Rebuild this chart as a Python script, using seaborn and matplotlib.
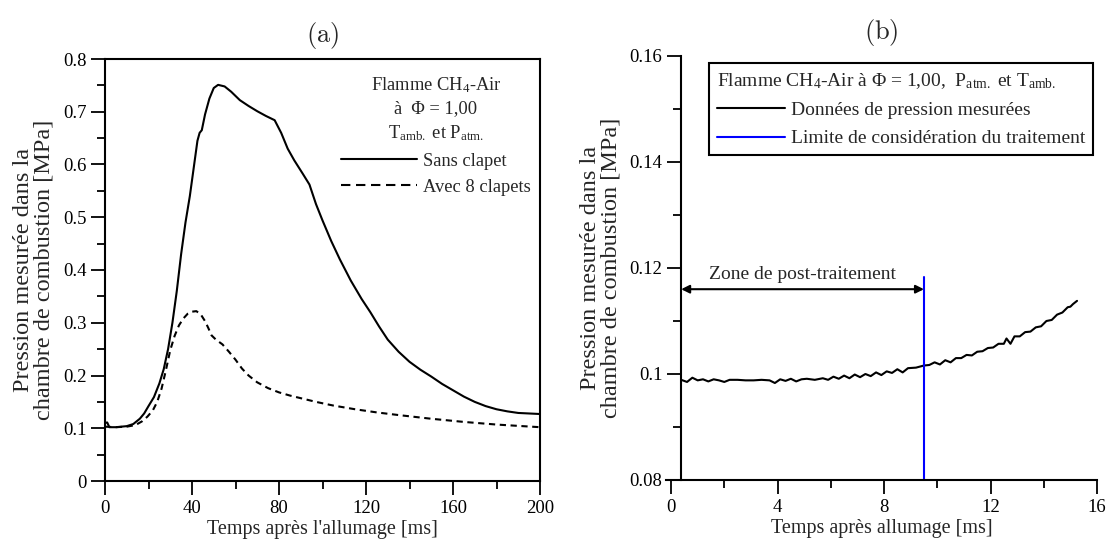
import numpy as np
import pandas as pd
import matplotlib
matplotlib.use("Agg")
import matplotlib.pyplot as plt
from matplotlib.ticker import MultipleLocator, FuncFormatter
from matplotlib.lines import Line2D
import seaborn as sns

# ---------------- data (a) ----------------
t_sans = [0, 1, 2, 5, 10, 13, 16, 18, 20, 22.5, 25, 27, 29, 31, 33, 35, 37, 39, 41, 42.5,
          43.5, 44.5, 46, 48, 50, 52, 55, 58, 62, 66, 70, 74, 78, 81, 84, 87, 91, 94, 97,
          100, 104, 108, 113, 118, 122, 126, 130, 135, 140, 145, 150, 155, 160, 165, 170,
          175, 180, 185, 190, 195, 200]
p_sans = [0.110, 0.111, 0.102, 0.102, 0.104, 0.108, 0.118, 0.128, 0.142, 0.159, 0.185, 0.212,
          0.250, 0.300, 0.360, 0.430, 0.490, 0.540, 0.600, 0.645, 0.660, 0.665, 0.695, 0.725,
          0.745, 0.751, 0.748, 0.738, 0.722, 0.711, 0.701, 0.692, 0.684, 0.660, 0.630, 0.608,
          0.582, 0.562, 0.525, 0.494, 0.455, 0.420, 0.380, 0.345, 0.320, 0.293, 0.268, 0.245,
          0.226, 0.211, 0.198, 0.184, 0.172, 0.160, 0.150, 0.142, 0.136, 0.132, 0.129, 0.128,
          0.127]
t_avec = [0, 5, 10, 14, 17, 19.5, 22, 24, 26, 28, 30, 32, 34, 36, 38, 40, 42, 44, 46, 47.5,
          49, 51, 54, 57, 60, 63, 66, 70, 75, 80, 85, 90, 97, 105, 115, 125, 135, 150, 165,
          180, 200]
p_avec = [0.103, 0.102, 0.103, 0.106, 0.113, 0.122, 0.134, 0.150, 0.175, 0.210, 0.248, 0.275,
          0.295, 0.308, 0.317, 0.321, 0.322, 0.316, 0.303, 0.290, 0.276, 0.268, 0.259, 0.245,
          0.230, 0.213, 0.200, 0.187, 0.176, 0.168, 0.162, 0.157, 0.150, 0.143, 0.136, 0.130,
          0.125, 0.118, 0.112, 0.107, 0.102]

# ---------------- data (b) ----------------
t_mes = [0.38, 0.6, 0.8, 1.0, 1.2, 1.4, 1.6, 1.8, 2.0, 2.2, 2.5, 2.8, 3.1, 3.4, 3.7, 3.9, 4.1,
         4.3, 4.5, 4.7, 4.9, 5.1, 5.4, 5.7, 5.9, 6.1, 6.3, 6.5, 6.7, 6.9, 7.1, 7.3, 7.5, 7.7,
         7.9, 8.1, 8.3, 8.5, 8.7, 8.9, 9.2, 9.5, 9.7, 9.9, 10.1, 10.3, 10.5, 10.7, 10.9, 11.1,
         11.3, 11.5, 11.7, 11.9, 12.1, 12.3, 12.5, 12.6, 12.75, 12.9, 13.1, 13.3, 13.5, 13.7,
         13.9, 14.1, 14.3, 14.5, 14.7, 14.9, 15.0, 15.1, 15.25]
p_mes = [0.0989, 0.0985, 0.0993, 0.0988, 0.0990, 0.0986, 0.0990, 0.0988, 0.0985, 0.0989,
         0.0989, 0.0988, 0.0988, 0.0989, 0.0988, 0.0983, 0.0990, 0.0987, 0.0991, 0.0986,
         0.0990, 0.0991, 0.0989, 0.0992, 0.0989, 0.0995, 0.0991, 0.0997, 0.0992, 0.0999,
         0.0994, 0.1000, 0.0996, 0.1003, 0.0998, 0.1005, 0.1002, 0.1009, 0.1003, 0.1011,
         0.1012, 0.1016, 0.1017, 0.1022, 0.1018, 0.1026, 0.1022, 0.1030, 0.1030, 0.1036,
         0.1035, 0.1042, 0.1043, 0.1049, 0.1050, 0.1057, 0.1057, 0.1067, 0.1057, 0.1071,
         0.1071, 0.1079, 0.1080, 0.1088, 0.1090, 0.1100, 0.1102, 0.1112, 0.1116, 0.1126,
         0.1127, 0.1132, 0.1138]
limit_t = 9.5
limit_top = 0.1183
zone_start = 0.38
zone_y = 0.116
zone_label = "Zone de post-traitement"

sns.set_theme(style="ticks")
plt.rcParams["font.family"] = ["Liberation Serif", "DejaVu Serif"]
plt.rcParams["mathtext.fontset"] = "custom"
plt.rcParams["mathtext.rm"] = "Liberation Serif"
plt.rcParams["mathtext.it"] = "Liberation Serif:italic"
plt.rcParams["mathtext.bf"] = "Liberation Serif:bold"
plt.rcParams["axes.edgecolor"] = "black"
plt.rcParams["axes.linewidth"] = 1.5

fig = plt.figure(figsize=(11.1, 5.49), dpi=100)
axA = fig.add_axes([105 / 1110, 1 - 481 / 549, 435 / 1110, 422 / 549])
axB = fig.add_axes([666 / 1110, 1 - 480 / 549, 431 / 1110, 424 / 549])

fmt = FuncFormatter(lambda v, p: f"{v:g}")
ylab = "Pression mesurée dans la\nchambre de combustion [MPa]"

def style_ticks(ax):
    ax.tick_params(which="major", direction="out", length=10, width=1.3, labelsize=13.5,
                   color="black", labelcolor="black")
    ax.tick_params(which="minor", direction="out", length=5.5, width=1.3, color="black")

# ---------------- (a) ----------------
da = pd.DataFrame({"t": t_sans, "p": p_sans})
db = pd.DataFrame({"t": t_avec, "p": p_avec})
sns.lineplot(data=da, x="t", y="p", ax=axA, color="black", lw=1.5, sort=False)
sns.lineplot(data=db, x="t", y="p", ax=axA, color="black", lw=1.5, sort=False,
             linestyle=(0, (3, 2.2)))
axA.set_xlim(0, 200)
axA.set_ylim(0, 0.8)
axA.xaxis.set_major_locator(MultipleLocator(40))
axA.xaxis.set_minor_locator(MultipleLocator(20))
axA.yaxis.set_major_locator(MultipleLocator(0.1))
axA.yaxis.set_minor_locator(MultipleLocator(0.05))
axA.yaxis.set_major_formatter(fmt)
axA.xaxis.set_major_formatter(fmt)
style_ticks(axA)
for s in axA.spines.values():
    s.set_visible(True)
    s.set_linewidth(1.5)
axA.set_xlabel("Temps après l'allumage [ms]", fontsize=14.5, labelpad=2)
axA.set_ylabel(ylab, fontsize=17.5, labelpad=6, linespacing=0.95)
handlesA = [Line2D([], [], color="black", lw=1.5),
            Line2D([], [], color="black", lw=1.5, linestyle=(0, (4.5, 2.7)))]
legA = axA.legend(handlesA, ["Sans clapet", "Avec 8 clapets"],
                  title="Flamme CH$_4$-Air\nà  Φ = 1,00\nT$_{\\mathrm{amb.}}$ et P$_{\\mathrm{atm.}}$",
                  loc="upper right", bbox_to_anchor=(0.995, 0.978), borderaxespad=0,
                  frameon=False, fontsize=13.3, title_fontsize=13.3, handlelength=4.1,
                  handletextpad=0.3, labelspacing=0.5)
legA._legend_box.align = "center"
legA.get_title().set_multialignment("center")
legA.get_title().set_linespacing(1.4)
axA.set_title(r"$\mathrm{(a)}$", fontsize=19, pad=12, math_fontfamily="cm")

# ---------------- (b) ----------------
dm = pd.DataFrame({"t": t_mes, "p": p_mes})
sns.lineplot(data=dm, x="t", y="p", ax=axB, color="black", lw=1.5, sort=False)
axB.plot([limit_t, limit_t], [0.08, limit_top], color="blue", lw=1.5)
axB.set_xlim(-0.19, 16)
axB.set_ylim(0.08, 0.16)
axB.xaxis.set_major_locator(MultipleLocator(4))
axB.xaxis.set_minor_locator(MultipleLocator(2))
axB.yaxis.set_major_locator(MultipleLocator(0.02))
axB.yaxis.set_minor_locator(MultipleLocator(0.01))
axB.yaxis.set_major_formatter(fmt)
axB.xaxis.set_major_formatter(fmt)
style_ticks(axB)
axB.spines["top"].set_visible(False)
axB.spines["right"].set_visible(False)
axB.spines["left"].set_position(("data", zone_start))
axB.spines["left"].set_linewidth(1.5)
axB.spines["bottom"].set_linewidth(1.5)
axB.set_xlabel("Temps après allumage [ms]", fontsize=14.5, labelpad=2)
axB.set_ylabel(ylab, fontsize=17.5, labelpad=6, linespacing=0.95)
axB.annotate("", xy=(limit_t, zone_y), xytext=(zone_start, zone_y),
             arrowprops=dict(arrowstyle="<|-|>", color="black", lw=1.5,
                             mutation_scale=12, shrinkA=0, shrinkB=0))
axB.text((zone_start + limit_t) / 2, zone_y + 0.0011, zone_label, ha="center", va="bottom",
         fontsize=14)
handlesB = [Line2D([], [], color="black", lw=1.5), Line2D([], [], color="blue", lw=1.5)]
legB = axB.legend(handlesB, ["Données de pression mesurées",
                             "Limite de considération du traitement"],
                  title="Flamme CH$_4$-Air à Φ = 1,00,  P$_{\\mathrm{atm.}}$ et T$_{\\mathrm{amb.}}$",
                  loc="upper right", bbox_to_anchor=(0.991, 0.983), borderaxespad=0,
                  frameon=True, fancybox=False, edgecolor="black", framealpha=1,
                  fontsize=14, title_fontsize=14, handlelength=3.5, handletextpad=0.3,
                  labelspacing=0.55, borderpad=0.4)
legB.get_frame().set_linewidth(1.5)
legB._legend_box.align = "left"
axB.set_title(r"$\mathrm{(b)}$", fontsize=19, pad=12, math_fontfamily="cm")

fig.savefig("out.png", dpi=100)
